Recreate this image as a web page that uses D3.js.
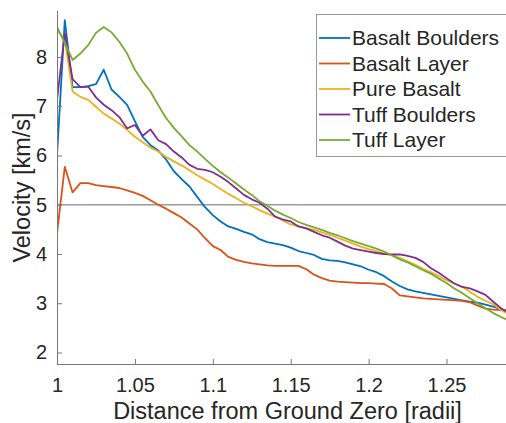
<!DOCTYPE html>
<html>
<head>
<meta charset="utf-8">
<script src="https://cdn.jsdelivr.net/npm/d3@7"></script>
<style>
  body { margin: 0; background: #fff; }
  text { font-family: "Liberation Sans", Arial, sans-serif; fill: #262626; }
</style>
</head>
<body>
<div id="chart"></div>
<script>
// distance from ground zero, step 0.005 radii
var distance = d3.range(0, 59).map(function(i) { return +(1 + i * 0.005).toFixed(3); });

var basaltBoulders = [6.00, 8.75, 7.39, 7.39, 7.41, 7.45, 7.74, 7.34, 7.19, 7.03,
  6.70, 6.38, 6.21, 6.10, 5.92, 5.68, 5.52, 5.37, 5.16, 4.95,
  4.79, 4.66, 4.56, 4.51, 4.45, 4.40, 4.30, 4.24, 4.21, 4.18,
  4.13, 4.06, 4.02, 3.98, 3.90, 3.87, 3.86, 3.83, 3.79, 3.75,
  3.68, 3.63, 3.55, 3.44, 3.35, 3.28, 3.24, 3.21, 3.18, 3.15,
  3.12, 3.09, 3.06, 3.03, 3.01, 2.97, 2.93, 2.88, 2.83];
var basaltLayer = [4.42, 5.77, 5.25, 5.44, 5.44, 5.40, 5.38, 5.36, 5.34, 5.29,
  5.24, 5.18, 5.09, 5.00, 4.92, 4.83, 4.74, 4.62, 4.50, 4.32,
  4.16, 4.08, 3.94, 3.88, 3.84, 3.81, 3.79, 3.77, 3.76, 3.76,
  3.76, 3.76, 3.69, 3.58, 3.51, 3.46, 3.44, 3.43, 3.42, 3.41,
  3.41, 3.40, 3.39, 3.30, 3.16, 3.14, 3.12, 3.10, 3.09, 3.08,
  3.07, 3.06, 3.05, 3.02, 2.95, 2.89, 2.87, 2.86, 2.85];
var pureBasalt = [8.55, 8.35, 7.30, 7.19, 7.13, 6.99, 6.85, 6.75, 6.65, 6.52,
  6.38, 6.27, 6.16, 6.08, 5.97, 5.88, 5.80, 5.70, 5.60, 5.51,
  5.42, 5.32, 5.22, 5.13, 5.04, 4.97, 4.89, 4.82, 4.76, 4.68,
  4.60, 4.56, 4.52, 4.49, 4.44, 4.39, 4.33, 4.27, 4.21, 4.15,
  4.10, 4.06, 4.01, 3.97, 3.92, 3.85, 3.78, 3.70, 3.63, 3.55,
  3.47, 3.40, 3.34, 3.23, 3.13, 3.05, 2.98, 2.86, 2.78];
var tuffBoulders = [7.13, 8.48, 7.55, 7.39, 7.40, 7.18, 7.03, 6.92, 6.78, 6.55,
  6.62, 6.40, 6.53, 6.31, 6.23, 6.08, 5.96, 5.81, 5.73, 5.71,
  5.66, 5.57, 5.46, 5.33, 5.20, 5.11, 5.04, 4.92, 4.76, 4.70,
  4.66, 4.56, 4.52, 4.45, 4.38, 4.33, 4.25, 4.17, 4.11, 4.08,
  4.05, 4.02, 4.00, 3.99, 3.99, 3.96, 3.92, 3.84, 3.71, 3.62,
  3.51, 3.40, 3.33, 3.30, 3.24, 3.17, 3.03, 2.90, 2.80];
var tuffLayer = [8.61, 8.28, 7.94, 8.07, 8.24, 8.49, 8.61, 8.50, 8.31, 8.07,
  7.74, 7.50, 7.30, 7.02, 6.76, 6.56, 6.39, 6.21, 6.08, 5.93,
  5.79, 5.66, 5.55, 5.43, 5.31, 5.20, 5.07, 4.98, 4.88, 4.80,
  4.73, 4.65, 4.59, 4.54, 4.49, 4.43, 4.38, 4.32, 4.26, 4.21,
  4.16, 4.11, 4.05, 3.97, 3.89, 3.83, 3.75, 3.67, 3.60, 3.50,
  3.41, 3.30, 3.21, 3.10, 3.00, 2.90, 2.80, 2.72, 2.65];

var seriesNames = ["Basalt Boulders", "Basalt Layer", "Pure Basalt", "Tuff Boulders", "Tuff Layer"];
var seriesValues = [basaltBoulders, basaltLayer, pureBasalt, tuffBoulders, tuffLayer];
var colors = ["#0072BD", "#D95319", "#EDB120", "#7E2F8E", "#77AC30"];
var xTicks = [1, 1.05, 1.1, 1.15, 1.2, 1.25];
var yTicks = [2, 3, 4, 5, 6, 7, 8];
var refLine = 5;

var width = 506, height = 423;
var m = {left: 57, top: 11, bottom: 364, right: 506};

var svg = d3.select("#chart").append("svg")
    .attr("width", width)
    .attr("height", height);

var x = d3.scaleLinear().domain([1, 1.29]).range([m.left, m.left + 0.29 * 1558]);
var y = d3.scaleLinear().domain([1.766, 8.934]).range([m.bottom, m.top]);

svg.append("clipPath").attr("id", "clip")
  .append("rect")
    .attr("x", m.left).attr("y", m.top)
    .attr("width", m.right - m.left).attr("height", m.bottom - m.top);

// reference line at 5 km/s
svg.append("line")
    .attr("x1", m.left).attr("x2", m.right)
    .attr("y1", y(refLine)).attr("y2", y(refLine))
    .style("stroke", "#9a9a9a")
    .style("stroke-width", 1.3);

var line = d3.line()
    .x(function(d) { return x(d[0]); })
    .y(function(d) { return y(d[1]); });

var plot = svg.append("g").attr("clip-path", "url(#clip)");
seriesValues.forEach(function(vals, i) {
  plot.append("path")
      .datum(distance.map(function(d, j) { return [d, vals[j]]; }))
      .attr("d", line)
      .style("fill", "none")
      .style("stroke", colors[i])
      .style("stroke-width", 1.8)
      .style("stroke-linejoin", "round");
});

// axes (ticks inward, MATLAB style)
var xAxis = svg.append("g")
    .attr("transform", "translate(0," + m.bottom + ")")
    .call(d3.axisBottom(x).tickValues(xTicks).tickSizeInner(-5).tickSizeOuter(0)
      .tickFormat(function(d) { return d3.format("")(d); }));
xAxis.select(".domain").attr("d", "M" + m.left + ",0.5H" + m.right).style("stroke", "#777");
xAxis.selectAll(".tick line").style("stroke", "#777");
xAxis.selectAll(".tick text")
    .attr("y", 14)
    .style("font-size", "20px")
    .style("fill", "#262626");

var yAxis = svg.append("g")
    .attr("transform", "translate(" + m.left + ",0)")
    .call(d3.axisLeft(y).tickValues(yTicks).tickSizeInner(-5).tickSizeOuter(0));
yAxis.select(".domain").attr("d", "M0.5," + m.top + "V" + m.bottom).style("stroke", "#777");
yAxis.selectAll(".tick line").style("stroke", "#777");
yAxis.selectAll(".tick text")
    .attr("x", -10)
    .style("font-size", "20px")
    .style("fill", "#262626");
svg.selectAll(".tick text").style("font-family", "'Liberation Sans', Arial, sans-serif");

svg.append("text")
    .attr("x", (m.left + m.right) / 2 + 6)
    .attr("y", 419)
    .attr("text-anchor", "middle")
    .style("font-size", "23.5px")
    .text("Distance from Ground Zero [radii]");

svg.append("text")
    .attr("transform", "translate(30," + ((m.top + m.bottom) / 2) + ") rotate(-90)")
    .attr("text-anchor", "middle")
    .style("font-size", "23.5px")
    .text("Velocity [km/s]");

// legend
var legend = svg.append("g");
legend.append("rect")
    .attr("x", 316.5).attr("y", 14.5)
    .attr("width", 220).attr("height", 142)
    .style("fill", "#fff")
    .style("stroke", "#999");

seriesNames.forEach(function(name, i) {
  var cy = 38 + i * 25.5;
  legend.append("line")
      .attr("x1", 319).attr("x2", 350)
      .attr("y1", cy).attr("y2", cy)
      .style("stroke", colors[i])
      .style("stroke-width", 1.8);
  legend.append("text")
      .attr("x", 352).attr("y", cy + 7)
      .style("font-size", "21px")
      .text(name);
});
</script>
</body>
</html>
